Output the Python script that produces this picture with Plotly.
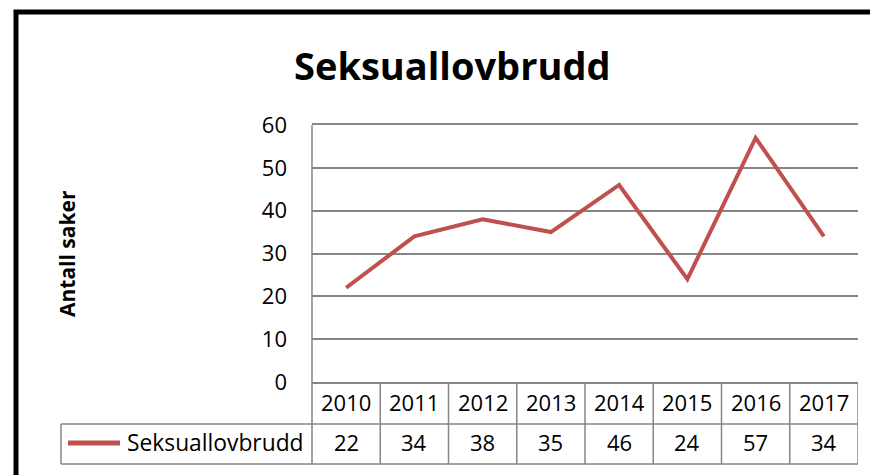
import plotly.graph_objects as go

# ---- data ----
years = ["2010", "2011", "2012", "2013", "2014", "2015", "2016", "2017"]
values = [22, 34, 38, 35, 46, 24, 57, 34]
series_name = "Seksuallovbrudd"
chart_title = "Seksuallovbrudd"
y_title = "Antall saker"
y_ticks = [0, 10, 20, 30, 40, 50, 60]

# ---- layout geometry (pixels) ----
W, H = 870, 475
L, R, T, B = 312, 858, 125, 382
ROW1, ROW2 = 424, 464
LEG_X = 61
GRID = "#868686"
RED = "#C0504D"
FONT = "Open Sans"


# paper coordinates are relative to the plot area
def py(p):
    return (B - p) / (B - T)


def px(p):
    return (p - L) / (R - L)


fig = go.Figure(
    go.Scatter(
        x=years, y=values, mode="lines",
        line=dict(color=RED, width=4),
        showlegend=False, hoverinfo="skip",
    )
)

shapes = []
# outer chart border
shapes.append(dict(type="rect", xref="paper", yref="paper",
                   x0=px(16), x1=px(W + 40), y0=py(H + 40), y1=py(12),
                   line=dict(color="black", width=5), layer="above"))
# y axis line extended through table
shapes.append(dict(type="line", xref="paper", yref="paper",
                   x0=px(L), x1=px(L), y0=py(ROW2), y1=py(T),
                   line=dict(color=GRID, width=1.5)))
# table vertical lines
n = len(years)
for k in range(1, n + 1):
    shapes.append(dict(type="line", xref="x", yref="paper",
                       x0=k - 0.5, x1=k - 0.5, y0=py(ROW2), y1=py(B),
                       line=dict(color=GRID, width=1.5)))
# legend cell left edge
shapes.append(dict(type="line", xref="paper", yref="paper",
                   x0=px(LEG_X), x1=px(LEG_X), y0=py(ROW2), y1=py(ROW1),
                   line=dict(color=GRID, width=1.5)))
# horizontal table lines
for yy in (ROW1, ROW2):
    shapes.append(dict(type="line", xref="paper", yref="paper",
                       x0=px(LEG_X), x1=px(R), y0=py(yy), y1=py(yy),
                       line=dict(color=GRID, width=1.5)))
# legend key
shapes.append(dict(type="line", xref="paper", yref="paper",
                   x0=px(68), x1=px(120), y0=py(443), y1=py(443),
                   line=dict(color=RED, width=5)))

annotations = []
annotations.append(dict(text="<b>" + chart_title + "</b>", xref="paper", yref="paper",
                        x=px(452), y=py(65), showarrow=False,
                        font=dict(family=FONT, size=38, color="black"),
                        xanchor="center", yanchor="middle"))
annotations.append(dict(text="<b>" + y_title + "</b>", xref="paper", yref="paper",
                        x=px(67), y=py(254), showarrow=False, textangle=-90,
                        font=dict(family=FONT, size=21, color="black"),
                        xanchor="center", yanchor="middle"))
annotations.append(dict(text=series_name, xref="paper", yref="paper",
                        x=px(125), y=py(442), showarrow=False,
                        font=dict(family=FONT, size=22.8, color="black"),
                        xanchor="left", yanchor="middle"))
for i, (yr, v) in enumerate(zip(years, values)):
    annotations.append(dict(text=yr, xref="x", yref="paper", x=i, y=py(402),
                            showarrow=False, font=dict(family=FONT, size=22, color="black"),
                            xanchor="center", yanchor="middle"))
    annotations.append(dict(text=str(v), xref="x", yref="paper", x=i, y=py(442),
                            showarrow=False, font=dict(family=FONT, size=22, color="black"),
                            xanchor="center", yanchor="middle"))

fig.update_layout(
    width=W, height=H, autosize=False,
    margin=dict(l=L, r=W - R, t=T, b=H - B, pad=0),
    paper_bgcolor="white", plot_bgcolor="white",
    font=dict(family=FONT, color="black"),
    shapes=shapes, annotations=annotations,
    xaxis=dict(type="category", range=[-0.5, n - 0.5], showticklabels=False,
               showgrid=False, zeroline=False, showline=True, mirror=True,
               linecolor=GRID, linewidth=1.5, fixedrange=True),
    yaxis=dict(range=[0, 60], tickvals=y_ticks, showgrid=True, gridcolor=GRID,
               gridwidth=1.5, zeroline=False, showline=False,
               tickfont=dict(family=FONT, size=22, color="black"),
               ticks="", ticklabelstandoff=24, fixedrange=True),
)

fig.write_html("out.html", config={"displayModeBar": False},
               post_script="document.body.style.margin='0';")
